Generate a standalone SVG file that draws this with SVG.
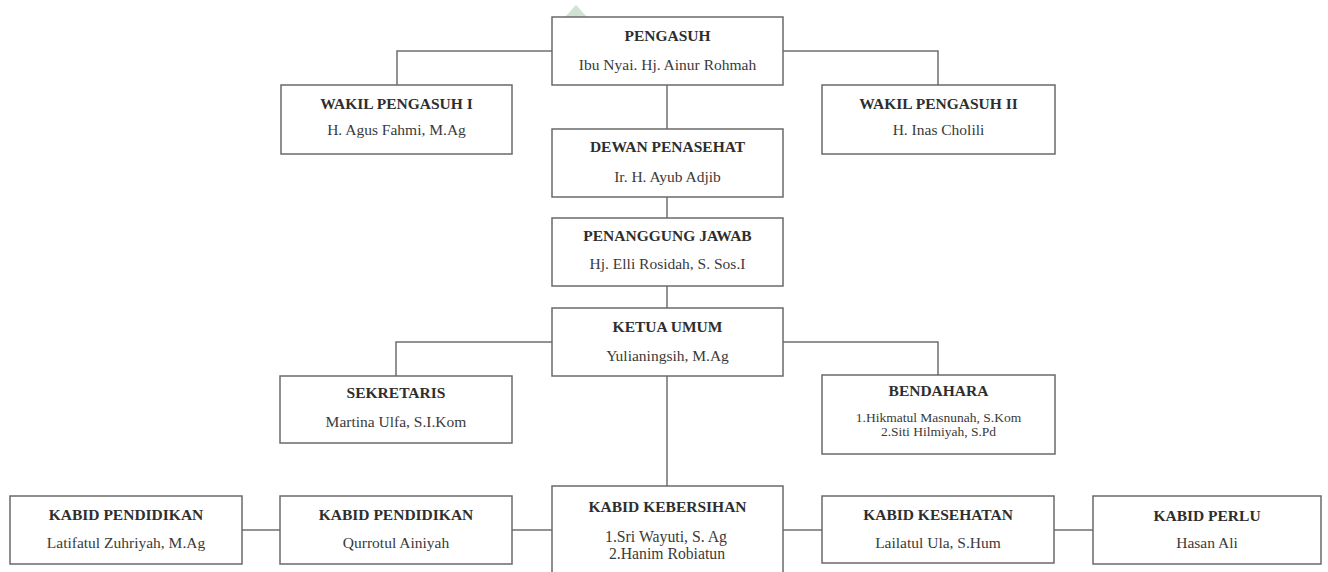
<svg xmlns="http://www.w3.org/2000/svg" width="1328" height="572" viewBox="0 0 1328 572">
<style>
.box{fill:#ffffff;stroke:#6a6a6a;stroke-width:1.5}
.ln{fill:none;stroke:#6f6f6f;stroke-width:1.5}
.t{font-family:"Liberation Serif","Times New Roman",serif;font-weight:bold;font-size:15.5px;fill:#2e2e2e;text-anchor:middle}
.s{font-family:"Liberation Serif","Times New Roman",serif;font-size:15.5px;fill:#3a3a3a;text-anchor:middle}
.s2{font-family:"Liberation Serif","Times New Roman",serif;font-size:13.5px;fill:#3a3a3a;text-anchor:middle}
.s3{font-family:"Liberation Serif","Times New Roman",serif;font-size:16px;fill:#3a3a3a;text-anchor:middle}
</style>
<rect width="1328" height="572" fill="#ffffff"/>
<polygon points="565,17 576,5 587,17" fill="#cfe2d4"/>
<g id="connectors">
<path class="ln" d="M552,51 H397 V85"/>
<path class="ln" d="M783,51 H938 V85"/>
<path class="ln" d="M667,85 V129"/>
<path class="ln" d="M667,197 V218"/>
<path class="ln" d="M667,286 V308"/>
<path class="ln" d="M552,342 H396 V376"/>
<path class="ln" d="M783,342 H938 V375"/>
<path class="ln" d="M667,376 V486"/>
<path class="ln" d="M242,530 H280"/>
<path class="ln" d="M512,530 H552"/>
<path class="ln" d="M783,530 H822"/>
<path class="ln" d="M1054,530 H1093"/>
</g>
<g id="pengasuh">
<rect class="box" x="552" y="17" width="231" height="68"/>
<text class="t" x="667.5" y="41">PENGASUH</text>
<text class="s" x="667.5" y="70">Ibu Nyai. Hj. Ainur Rohmah</text>
</g>
<g id="wakil1">
<rect class="box" x="281" y="85" width="231" height="69"/>
<text class="t" x="396.5" y="109">WAKIL PENGASUH I</text>
<text class="s" x="396.5" y="135">H. Agus Fahmi, M.Ag</text>
</g>
<g id="wakil2">
<rect class="box" x="822" y="85" width="233" height="69"/>
<text class="t" x="938.5" y="109">WAKIL PENGASUH II</text>
<text class="s" x="938.5" y="135">H. Inas Cholili</text>
</g>
<g id="dewan">
<rect class="box" x="552" y="129" width="231" height="68"/>
<text class="t" x="667.5" y="152">DEWAN PENASEHAT</text>
<text class="s" x="667.5" y="182">Ir. H. Ayub Adjib</text>
</g>
<g id="penanggung">
<rect class="box" x="552" y="218" width="231" height="68"/>
<text class="t" x="667.5" y="241">PENANGGUNG JAWAB</text>
<text class="s" x="667.5" y="269">Hj. Elli Rosidah, S. Sos.I</text>
</g>
<g id="ketua">
<rect class="box" x="552" y="308" width="231" height="68"/>
<text class="t" x="667.5" y="332">KETUA UMUM</text>
<text class="s" x="667.5" y="361">Yulianingsih, M.Ag</text>
</g>
<g id="sekretaris">
<rect class="box" x="280" y="376" width="232" height="67"/>
<text class="t" x="396" y="398">SEKRETARIS</text>
<text class="s" x="396" y="427">Martina Ulfa, S.I.Kom</text>
</g>
<g id="bendahara">
<rect class="box" x="822" y="375" width="233" height="79"/>
<text class="t" x="938.5" y="396">BENDAHARA</text>
<text class="s2" x="938.5" y="422">1.Hikmatul Masnunah, S.Kom</text>
<text class="s2" x="938.5" y="436">2.Siti Hilmiyah, S.Pd</text>
</g>
<g id="kabid-pendidikan-1">
<rect class="box" x="10" y="496" width="232" height="68"/>
<text class="t" x="126" y="520">KABID PENDIDIKAN</text>
<text class="s" x="126" y="548">Latifatul Zuhriyah, M.Ag</text>
</g>
<g id="kabid-pendidikan-2">
<rect class="box" x="280" y="496" width="232" height="68"/>
<text class="t" x="396" y="520">KABID PENDIDIKAN</text>
<text class="s" x="396" y="548">Qurrotul Ainiyah</text>
</g>
<g id="kabid-kebersihan">
<rect class="box" x="552" y="486" width="231" height="92"/>
<text class="t" x="667.5" y="512">KABID KEBERSIHAN</text>
<text class="s3" x="666" y="542" textLength="122" lengthAdjust="spacingAndGlyphs">1.Sri Wayuti, S. Ag</text>
<text class="s3" x="667" y="559" textLength="116" lengthAdjust="spacingAndGlyphs">2.Hanim Robiatun</text>
</g>
<g id="kabid-kesehatan">
<rect class="box" x="822" y="496" width="232" height="67"/>
<text class="t" x="938" y="520">KABID KESEHATAN</text>
<text class="s" x="938" y="548">Lailatul Ula, S.Hum</text>
</g>
<g id="kabid-perlu">
<rect class="box" x="1093" y="496" width="228" height="68"/>
<text class="t" x="1207" y="521">KABID PERLU</text>
<text class="s" x="1207" y="548">Hasan Ali</text>
</g>
</svg>
